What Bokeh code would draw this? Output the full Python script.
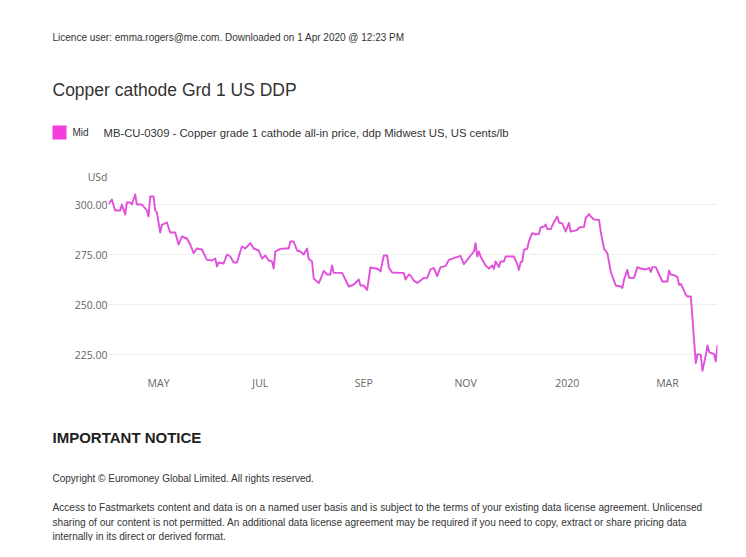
import pandas as pd
from bokeh.plotting import figure
from bokeh.layouts import column
from bokeh.models import Label, BoxAnnotation, FixedTicker, NumeralTickFormatter, Range1d
from bokeh.embed import file_html
from bokeh.resources import INLINE

# ---------------- data ----------------
dates = [
    "2019-04-01", "2019-04-03", "2019-04-05", "2019-04-08", "2019-04-09", "2019-04-11", "2019-04-12",
    "2019-04-14", "2019-04-15", "2019-04-17", "2019-04-18", "2019-04-21", "2019-04-24", "2019-04-25",
    "2019-04-26", "2019-04-28", "2019-04-29", "2019-04-30", "2019-05-02", "2019-05-03", "2019-05-06",
    "2019-05-08", "2019-05-11", "2019-05-13", "2019-05-15", "2019-05-18", "2019-05-20", "2019-05-22",
    "2019-05-24", "2019-05-27", "2019-05-30", "2019-06-02", "2019-06-04", "2019-06-05", "2019-06-06",
    "2019-06-09", "2019-06-11", "2019-06-13", "2019-06-15", "2019-06-17", "2019-06-19", "2019-06-20",
    "2019-06-22", "2019-06-25", "2019-06-27", "2019-06-30", "2019-07-02", "2019-07-04", "2019-07-06",
    "2019-07-08", "2019-07-09", "2019-07-10", "2019-07-13", "2019-07-16", "2019-07-18", "2019-07-19",
    "2019-07-21", "2019-07-23", "2019-07-25", "2019-07-27", "2019-07-29", "2019-07-30", "2019-08-01",
    "2019-08-02", "2019-08-05", "2019-08-06", "2019-08-08", "2019-08-10", "2019-08-12", "2019-08-13",
    "2019-08-14", "2019-08-19", "2019-08-21", "2019-08-23", "2019-08-26", "2019-08-29", "2019-08-30",
    "2019-09-01", "2019-09-03", "2019-09-05", "2019-09-08", "2019-09-10", "2019-09-11", "2019-09-13",
    "2019-09-15", "2019-09-16", "2019-09-18", "2019-09-23", "2019-09-25", "2019-09-26", "2019-09-28",
    "2019-09-29", "2019-10-01", "2019-10-03", "2019-10-05", "2019-10-07", "2019-10-09", "2019-10-11",
    "2019-10-13", "2019-10-15", "2019-10-17", "2019-10-20", "2019-10-22", "2019-10-25", "2019-10-29",
    "2019-10-31", "2019-11-02", "2019-11-04", "2019-11-06", "2019-11-07", "2019-11-08", "2019-11-09",
    "2019-11-10", "2019-11-13", "2019-11-15", "2019-11-17", "2019-11-18", "2019-11-19", "2019-11-21",
    "2019-11-22", "2019-11-24", "2019-11-25", "2019-11-30", "2019-12-02", "2019-12-03", "2019-12-04",
    "2019-12-05", "2019-12-06", "2019-12-08", "2019-12-09", "2019-12-11", "2019-12-13", "2019-12-15",
    "2019-12-16", "2019-12-18", "2019-12-19", "2019-12-20", "2019-12-22", "2019-12-24", "2019-12-26",
    "2019-12-27", "2019-12-29", "2019-12-31", "2020-01-02", "2020-01-03", "2020-01-05", "2020-01-07",
    "2020-01-08", "2020-01-11", "2020-01-12", "2020-01-14", "2020-01-15", "2020-01-17", "2020-01-20",
    "2020-01-21", "2020-01-23", "2020-01-25", "2020-01-27", "2020-01-29", "2020-01-30", "2020-02-02",
    "2020-02-03", "2020-02-04", "2020-02-06", "2020-02-07", "2020-02-10", "2020-02-12", "2020-02-14",
    "2020-02-17", "2020-02-19", "2020-02-20", "2020-02-21", "2020-02-23", "2020-02-25", "2020-02-27",
    "2020-03-01", "2020-03-02", "2020-03-03", "2020-03-05", "2020-03-07", "2020-03-08", "2020-03-09",
    "2020-03-10", "2020-03-12", "2020-03-13", "2020-03-15", "2020-03-16", "2020-03-17", "2020-03-18",
    "2020-03-19", "2020-03-21", "2020-03-22", "2020-03-24", "2020-03-25", "2020-03-26", "2020-03-29",
    "2020-03-30", "2020-03-31",
]

mid_price = [
    300.3, 302.5, 297.0, 297.0, 300.0, 295.0, 301.0,
    301.0, 300.0, 305.0, 300.0, 300.0, 297.0, 294.0,
    304.0, 304.0, 297.0, 296.0, 286.0, 289.8, 291.0,
    286.0, 286.0, 280.0, 284.0, 283.0, 280.0, 275.7,
    278.0, 277.5, 272.3, 272.0, 273.0, 269.0, 271.0,
    270.5, 275.0, 274.0, 271.0, 271.0, 276.5, 279.0,
    278.0, 280.7, 278.0, 277.0, 273.0, 274.5, 272.0,
    271.5, 268.0, 276.5, 277.8, 278.0, 278.0, 281.5,
    281.5, 277.0, 276.5, 275.0, 278.0, 272.8, 271.5,
    263.0, 260.7, 262.5, 266.8, 265.0, 265.0, 269.5,
    265.8, 265.8, 262.5, 259.0, 260.0, 262.5, 259.5,
    259.5, 257.3, 268.5, 268.0, 267.5, 266.5, 274.5,
    274.5, 268.5, 266.0, 265.8, 265.8, 262.5, 265.0,
    264.5, 262.0, 260.7, 262.0, 263.3, 263.3, 267.5,
    268.3, 264.2, 268.7, 269.2, 272.3, 273.2, 274.3,
    270.2, 272.3, 274.5, 276.5, 280.7, 274.0, 276.5,
    274.0, 269.5, 268.0, 269.5, 267.8, 271.5, 268.7,
    271.5, 271.5, 274.0, 274.0, 270.2, 267.3, 271.2,
    271.5, 277.3, 278.0, 281.8, 285.7, 285.0, 285.3,
    288.5, 289.0, 290.0, 287.7, 287.7, 291.2, 294.0,
    291.0, 290.5, 286.5, 290.8, 286.5, 286.8, 287.3,
    288.5, 288.8, 293.2, 295.2, 294.0, 292.5, 292.3,
    286.5, 277.8, 275.7, 266.5, 261.8, 259.5, 259.0,
    258.3, 262.5, 267.3, 263.3, 263.3, 268.7, 268.0,
    267.5, 268.3, 266.3, 268.7, 268.7, 265.0, 261.5,
    261.5, 267.0, 265.0, 264.7, 263.7, 259.7, 260.3,
    258.7, 254.8, 254.0, 254.0, 243.2, 231.5, 220.7,
    225.2, 224.8, 216.8, 224.8, 229.5, 226.2, 225.2,
    221.5, 229.8,
]

x_tick_dates = ["2019-05-01", "2019-07-01", "2019-09-01", "2019-11-01", "2020-01-01", "2020-03-01"]
x_tick_labels = ["MAY", "JUL", "SEP", "NOV", "2020", "MAR"]
y_ticks = [225, 250, 275, 300]

header_text = "Licence user: emma.rogers@me.com. Downloaded on 1 Apr 2020 @ 12:23 PM"
title_text = "Copper cathode Grd 1 US DDP"
series_name = "Mid"
series_desc = "MB-CU-0309 - Copper grade 1 cathode all-in price, ddp Midwest US, US cents/lb"
unit_text = "USd"
notice_title = "IMPORTANT NOTICE"
copyright_text = "Copyright \u00a9 Euromoney Global Limited. All rights reserved."
notice_lines = [
    "Access to Fastmarkets content and data is on a named user basis and is subject to the terms of your existing data license agreement. Unlicensed",
    "sharing of our content is not permitted. An additional data license agreement may be required if you need to copy, extract or share pricing data",
    "internally in its direct or derived format.",
]

W = 730
TOP_H, CHART_H, BOT_H = 186, 209, 146


def no_align(f):
    try:
        f.frame_align = False
    except Exception:
        pass


def text_panel(height):
    f = figure(width=W, height=height, x_range=Range1d(0, 1), y_range=Range1d(0, 1),
               x_axis_location=None, y_axis_location=None, min_border=0,
               output_backend="svg", toolbar_location=None,
               background_fill_color="white", border_fill_color="white")
    f.outline_line_color = None
    f.grid.grid_line_color = None
    no_align(f)
    return f


def add_text(f, height, text, X, Y, size, color="#333333", style="normal",
             font="Liberation Sans", align="left"):
    f.add_layout(Label(
        x=X, y=height - Y, x_units="screen", y_units="screen", text=text,
        text_font=font, text_font_size=f"{size}px", text_color=color,
        text_font_style=style, text_align=align, text_baseline="middle",
    ))


# ---------------- header panel ----------------
top = text_panel(TOP_H)
add_text(top, TOP_H, header_text, 52, 37, 10)
add_text(top, TOP_H, title_text, 52, 89, 17.5)
top.add_layout(BoxAnnotation(
    left=52, right=66, bottom=TOP_H - 139, top=TOP_H - 125,
    left_units="screen", right_units="screen", bottom_units="screen", top_units="screen",
    fill_color="#f43bdc", fill_alpha=1.0, line_color=None,
))
add_text(top, TOP_H, series_name, 72, 132, 10)
add_text(top, TOP_H, series_desc, 103, 132, 11.3)
add_text(top, TOP_H, unit_text, 107, 176, 10.5, color="#666666", font="Open Sans", align="right")

# ---------------- chart ----------------
x = pd.to_datetime(dates)
p = figure(
    width=W, height=CHART_H,
    x_axis_type="datetime",
    x_range=Range1d(start=pd.Timestamp("2019-04-01"), end=pd.Timestamp("2020-03-31")),
    y_range=Range1d(start=216, end=309),
    output_backend="svg", toolbar_location=None,
    min_border_left=108, min_border_right=13, min_border_top=0, min_border_bottom=23,
    background_fill_color="white", border_fill_color="white",
)
no_align(p)
p.outline_line_color = None
p.line(x, mid_price, line_color="#e050da", line_width=1.9, line_join="round")

tick_ms = [pd.Timestamp(d).value / 1e6 for d in x_tick_dates]
p.xaxis.ticker = FixedTicker(ticks=tick_ms)
p.xaxis.major_label_overrides = {t: lab for t, lab in zip(tick_ms, x_tick_labels)}
p.yaxis.ticker = FixedTicker(ticks=y_ticks)
p.yaxis.formatter = NumeralTickFormatter(format="0.00")
for ax in (p.xaxis[0], p.yaxis[0]):
    ax.axis_line_color = None
    ax.major_tick_line_color = None
    ax.minor_tick_line_color = None
    ax.major_tick_out = 0
    ax.major_tick_in = 0
    ax.major_label_text_font = "Open Sans"
    ax.major_label_text_font_size = "10.5px"
    ax.major_label_text_color = "#666666"
p.xaxis.major_label_standoff = 3
p.yaxis.major_label_standoff = 1
p.xgrid.grid_line_color = None
p.ygrid.grid_line_color = "#efefef"
p.ygrid.ticker = FixedTicker(ticks=y_ticks)

# ---------------- notice panel ----------------
bot = text_panel(BOT_H)
Y0 = TOP_H + CHART_H
add_text(bot, BOT_H, notice_title, 52, 437 - Y0, 15, color="#222222", style="bold")
add_text(bot, BOT_H, copyright_text, 52, 478 - Y0, 10)
for i, line in enumerate(notice_lines):
    add_text(bot, BOT_H, line, 52, 507 + 14.5 * i - Y0, 10.1)

layout = column(top, p, bot, spacing=0)
open("out.html", "w").write(file_html(layout, INLINE))
